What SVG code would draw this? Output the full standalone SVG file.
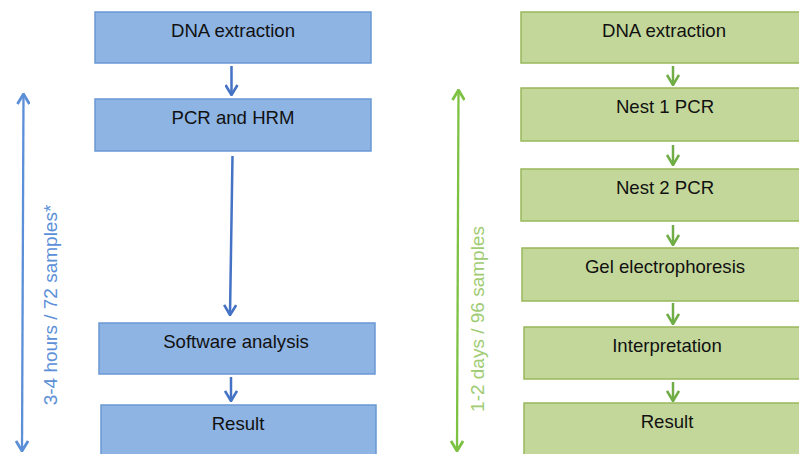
<svg xmlns="http://www.w3.org/2000/svg" width="799" height="454" viewBox="0 0 799 454">
  <style>
    .blue rect { fill: #8eb4e3; stroke: #6a98d4; stroke-width: 1.5; }
    .green rect { fill: #c4d79b; stroke: #98b85a; stroke-width: 1.5; }
    .label { font-family: "Liberation Sans", Arial, sans-serif; font-size: 18.6px; fill: #111; text-anchor: middle; }
    .span { font-family: "Liberation Sans", Arial, sans-serif; font-size: 19px; text-anchor: middle; }
    .bl { stroke: #4472c4; stroke-width: 2.5; fill: none; }
    .gr { stroke: #70ad47; stroke-width: 2.5; fill: none; }
    .blspan { stroke: #5b8fd8; stroke-width: 2.3; fill: none; }
    .grspan { stroke: #7dc242; stroke-width: 2.3; fill: none; }
  </style>
  <defs>
    <marker id="headB" viewBox="0 0 12 14" refX="11" refY="7" markerWidth="12" markerHeight="14" markerUnits="userSpaceOnUse" orient="auto">
      <path d="M1,1 L11,7 L1,13" fill="none" stroke="#4472c4" stroke-width="2.6"/>
    </marker>
    <marker id="headG" viewBox="0 0 12 14" refX="11" refY="7" markerWidth="12" markerHeight="14" markerUnits="userSpaceOnUse" orient="auto">
      <path d="M1,1 L11,7 L1,13" fill="none" stroke="#70ad47" stroke-width="2.6"/>
    </marker>
    <marker id="spanB" viewBox="0 0 12 14" refX="11" refY="7" markerWidth="12" markerHeight="14" markerUnits="userSpaceOnUse" orient="auto-start-reverse">
      <path d="M1,1 L11,7 L1,13" fill="none" stroke="#5b8fd8" stroke-width="2.8"/>
    </marker>
    <marker id="spanG" viewBox="0 0 12 14" refX="11" refY="7" markerWidth="12" markerHeight="14" markerUnits="userSpaceOnUse" orient="auto-start-reverse">
      <path d="M1,1 L11,7 L1,13" fill="none" stroke="#7dc242" stroke-width="2.8"/>
    </marker>
  </defs>

  <!-- HRM workflow (left) -->
  <g id="b-dna" class="blue"><rect x="95" y="12" width="276" height="51"/><text class="label" x="233" y="37">DNA extraction</text></g>
  <g id="b-pcr" class="blue"><rect x="95" y="99" width="276" height="52"/><text class="label" x="233" y="124">PCR and HRM</text></g>
  <g id="b-soft" class="blue"><rect x="99" y="323" width="276" height="51"/><text class="label" x="236" y="348">Software analysis</text></g>
  <g id="b-result" class="blue"><rect x="101" y="405" width="275" height="60"/><text class="label" x="238" y="430">Result</text></g>

  <!-- nested PCR workflow (right) -->
  <g id="g-dna" class="green"><rect x="521" y="12" width="290" height="51"/><text class="label" x="664" y="37">DNA extraction</text></g>
  <g id="g-nest1" class="green"><rect x="521" y="88" width="290" height="53"/><text class="label" x="665" y="113">Nest 1 PCR</text></g>
  <g id="g-nest2" class="green"><rect x="521" y="169" width="290" height="52"/><text class="label" x="665" y="194">Nest 2 PCR</text></g>
  <g id="g-gel" class="green"><rect x="522" y="248" width="290" height="53"/><text class="label" x="665" y="273">Gel electrophoresis</text></g>
  <g id="g-interp" class="green"><rect x="524" y="327" width="290" height="52"/><text class="label" x="667" y="352">Interpretation</text></g>
  <g id="g-result" class="green"><rect x="524" y="403" width="290" height="60"/><text class="label" x="667" y="428">Result</text></g>

  <!-- duration labels -->
  <g id="b-time">
    <text class="span" fill="#5b8fd8" transform="translate(57,305) rotate(-90)">3-4 hours / 72 samples*</text>
  </g>
  <g id="g-time">
    <text class="span" fill="#9fcc72" transform="translate(484,319) rotate(-90)">1-2 days / 96 samples</text>
  </g>

  <g id="connectors">
    <line class="bl" x1="231.5" y1="66" x2="231.5" y2="95" marker-end="url(#headB)"/>
    <line class="bl" x1="232.5" y1="156" x2="230" y2="315" marker-end="url(#headB)"/>
    <line class="bl" x1="231" y1="377" x2="231" y2="401" marker-end="url(#headB)"/>

    <line class="gr" x1="673" y1="66" x2="673" y2="85" marker-end="url(#headG)"/>
    <line class="gr" x1="673" y1="145" x2="673" y2="165" marker-end="url(#headG)"/>
    <line class="gr" x1="673" y1="225" x2="673" y2="245" marker-end="url(#headG)"/>
    <line class="gr" x1="673" y1="303" x2="673" y2="324" marker-end="url(#headG)"/>
    <line class="gr" x1="673" y1="382" x2="673" y2="401" marker-end="url(#headG)"/>

    <line class="blspan" x1="23.5" y1="94" x2="22" y2="451" marker-start="url(#spanB)" marker-end="url(#spanB)"/>
    <line class="grspan" x1="458.5" y1="90" x2="457" y2="451" marker-start="url(#spanG)" marker-end="url(#spanG)"/>
  </g>
</svg>
